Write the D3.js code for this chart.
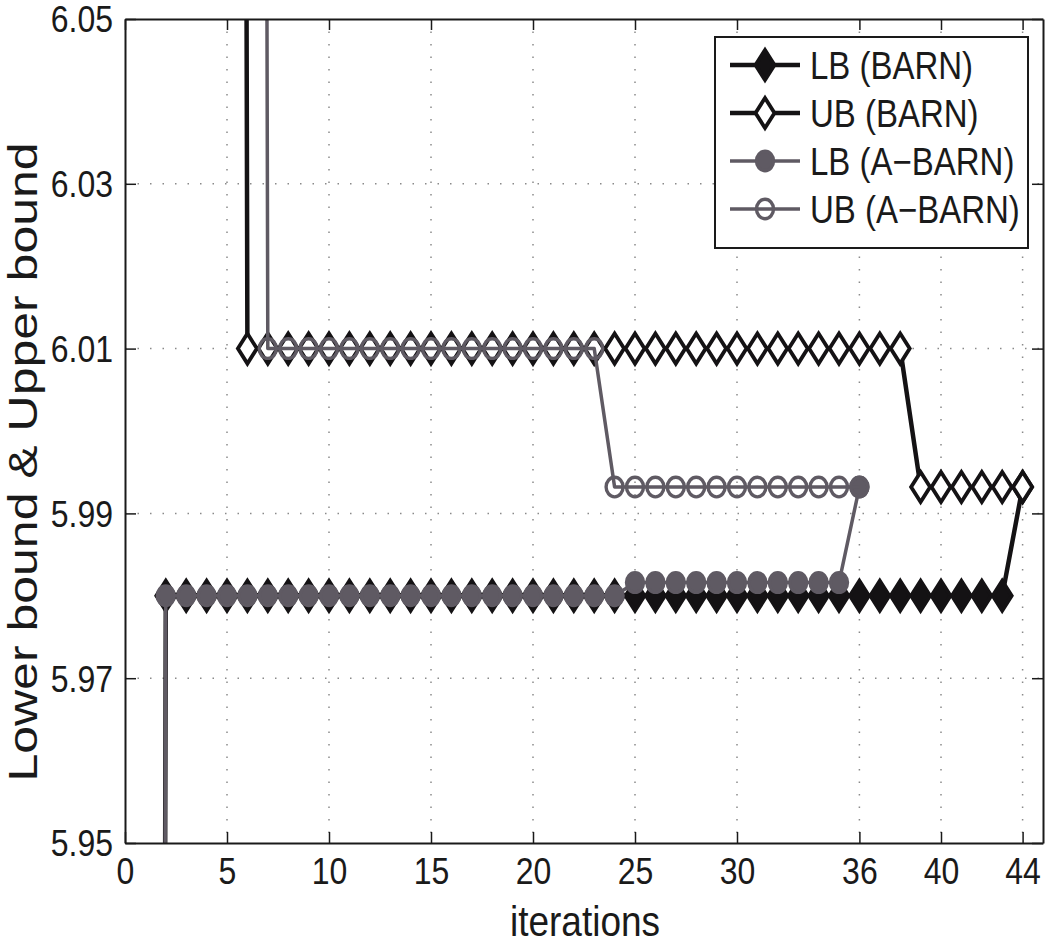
<!DOCTYPE html>
<html>
<head>
<meta charset="utf-8">
<script src="https://cdn.jsdelivr.net/npm/d3@7"></script>
<style>
  body { margin: 0; background: #fff; }
  svg { display: block; font-family: "Liberation Sans", Arial, sans-serif; }
  .st { transform-box: fill-box; transform-origin: center; transform: scaleY(1.16); }
</style>
</head>
<body>
<svg id="chart" width="1050" height="947"></svg>
<script>
// iteration numbers (x) shared by all series
const iterations = [1, 2, 3, 4, 5, 6, 7, 8, 9, 10, 11, 12, 13, 14, 15, 16, 17, 18, 19, 20, 21, 22,
  23, 24, 25, 26, 27, 28, 29, 30, 31, 32, 33, 34, 35, 36, 37, 38, 39, 40, 41, 42, 43, 44];

// null = no value at that iteration; values outside 5.95..6.05 are off the chart
const lbBarn = [5.0, 5.98, 5.98, 5.98, 5.98, 5.98, 5.98, 5.98, 5.98, 5.98, 5.98, 5.98, 5.98, 5.98,
  5.98, 5.98, 5.98, 5.98, 5.98, 5.98, 5.98, 5.98, 5.98, 5.98, 5.98, 5.98, 5.98, 5.98, 5.98, 5.98,
  5.98, 5.98, 5.98, 5.98, 5.98, 5.98, 5.98, 5.98, 5.98, 5.98, 5.98, 5.98, 5.98, 5.9932];
const ubBarn = [null, null, null, null, 7.0, 6.01, 6.01, 6.01, 6.01, 6.01, 6.01, 6.01, 6.01, 6.01,
  6.01, 6.01, 6.01, 6.01, 6.01, 6.01, 6.01, 6.01, 6.01, 6.01, 6.01, 6.01, 6.01, 6.01, 6.01, 6.01,
  6.01, 6.01, 6.01, 6.01, 6.01, 6.01, 6.01, 6.01, 5.9932, 5.9932, 5.9932, 5.9932, 5.9932, 5.9932];
const lbABarn = [5.0, 5.98, 5.98, 5.98, 5.98, 5.98, 5.98, 5.98, 5.98, 5.98, 5.98, 5.98, 5.98, 5.98,
  5.98, 5.98, 5.98, 5.98, 5.98, 5.98, 5.98, 5.98, 5.98, 5.98, 5.9816, 5.9816, 5.9816, 5.9816, 5.9816,
  5.9816, 5.9816, 5.9816, 5.9816, 5.9816, 5.9816, 5.9932, null, null, null, null, null, null, null, null];
const ubABarn = [null, null, null, null, null, 7.0, 6.01, 6.01, 6.01, 6.01, 6.01, 6.01, 6.01, 6.01,
  6.01, 6.01, 6.01, 6.01, 6.01, 6.01, 6.01, 6.01, 6.01, 5.9932, 5.9932, 5.9932, 5.9932, 5.9932, 5.9932,
  5.9932, 5.9932, 5.9932, 5.9932, 5.9932, 5.9932, 5.9932, null, null, null, null, null, null, null, null];

const seriesNames = ['LB (BARN)', 'UB (BARN)', 'LB (A\u2212BARN)', 'UB (A\u2212BARN)'];
const xTicks = [0, 5, 10, 15, 20, 25, 30, 36, 40, 44];
const yTicks = [5.95, 5.97, 5.99, 6.01, 6.03, 6.05];

const svg = d3.select('#chart');
const M = { left: 125, right: 1043, top: 19, bottom: 843 };

const x = d3.scaleLinear().domain([0, 45]).range([M.left, M.right]);
const y = d3.scaleLinear().domain([5.95, 6.05]).range([M.bottom, M.top]);

const BARN = '#141214';
const ABARN = '#5f5a63';

const series = [
  { name: seriesNames[0], values: lbBarn, color: BARN, lw: 4.5, marker: 'diamond', fill: BARN },
  { name: seriesNames[1], values: ubBarn, color: BARN, lw: 4.5, marker: 'diamond', fill: '#fff' },
  { name: seriesNames[2], values: lbABarn, color: ABARN, lw: 3.5, marker: 'circle', fill: ABARN },
  { name: seriesNames[3], values: ubABarn, color: ABARN, lw: 3.5, marker: 'circle', fill: 'none' }
];

svg.append('rect').attr('width', 1050).attr('height', 947).attr('fill', '#fff');

svg.append('clipPath').attr('id', 'plot-clip')
  .append('rect')
  .attr('x', M.left).attr('y', M.top)
  .attr('width', M.right - M.left).attr('height', M.bottom - M.top);

// dotted grid
const grid = svg.append('g').attr('stroke', '#8a8a8a').attr('stroke-width', 1.5)
  .attr('stroke-dasharray', '1.5,11');
grid.selectAll('line.gx').data(xTicks.filter(d => d > 0))
  .enter().append('line')
  .attr('x1', d => x(d)).attr('x2', d => x(d))
  .attr('y1', M.top).attr('y2', M.bottom);
grid.selectAll('line.gy').data(yTicks.filter(d => d > 5.95 && d < 6.05))
  .enter().append('line')
  .attr('x1', M.left).attr('x2', M.right)
  .attr('y1', d => y(d)).attr('y2', d => y(d));

// series
const plot = svg.append('g').attr('clip-path', 'url(#plot-clip)');
const line = d3.line()
  .defined(d => d.v !== null)
  .x(d => x(d.i))
  .y(d => y(d.v));

function drawMarker(sel, s) {
  if (s.marker === 'diamond') {
    sel.append('path')
      .attr('d', 'M0,-15 L9.5,0 L0,15 L-9.5,0 Z')
      .attr('fill', s.fill)
      .attr('stroke', s.color)
      .attr('stroke-width', 3.8)
      .attr('stroke-linejoin', 'miter');
  } else {
    sel.append('ellipse')
      .attr('rx', 8.5).attr('ry', 9.8)
      .attr('fill', s.fill === 'none' ? 'none' : s.fill)
      .attr('stroke', s.color)
      .attr('stroke-width', 3.4);
  }
}

series.forEach(s => {
  const pts = iterations.map((it, k) => ({ i: it, v: s.values[k] }));
  plot.append('path')
    .datum(pts)
    .attr('d', line)
    .attr('fill', 'none')
    .attr('stroke', s.color)
    .attr('stroke-width', s.lw)
    .attr('stroke-linejoin', 'round');
  plot.selectAll(null)
    .data(pts.filter(d => d.v !== null && d.v >= 5.95 && d.v <= 6.05))
    .enter().append('g')
    .attr('transform', d => `translate(${x(d.i)},${y(d.v)})`)
    .each(function () { drawMarker(d3.select(this), s); });
});

// axes (box with inward ticks on all sides)
const fmtY = d3.format('.2f');
const axB = svg.append('g').attr('transform', `translate(0,${M.bottom})`)
  .call(d3.axisBottom(x).tickValues(xTicks).tickSize(-11).tickSizeOuter(0).tickPadding(20));
const axT = svg.append('g').attr('transform', `translate(0,${M.top})`)
  .call(d3.axisTop(x).tickValues(xTicks).tickSize(-11).tickSizeOuter(0).tickFormat(''));
const axL = svg.append('g').attr('transform', `translate(${M.left},0)`)
  .call(d3.axisLeft(y).tickValues(yTicks).tickSize(-11).tickSizeOuter(0).tickPadding(12).tickFormat(fmtY));
const axR = svg.append('g').attr('transform', `translate(${M.right},0)`)
  .call(d3.axisRight(y).tickValues(yTicks).tickSize(-11).tickSizeOuter(0).tickFormat(''));

[axB, axT, axL, axR].forEach(a => {
  a.select('.domain').attr('stroke', '#1a1a1a').attr('stroke-width', 2);
  a.selectAll('.tick line').attr('stroke', '#1a1a1a').attr('stroke-width', 1.5);
  a.selectAll('.tick text')
    .attr('class', 'st')
    .attr('fill', '#1a1a1a')
    .style('font-size', '32px');
});
axB.selectAll('.tick text').attr('dy', '0.6em');
axL.selectAll('.tick text').attr('dy', '0.35em');

// axis labels
svg.append('text')
  .attr('class', 'st')
  .attr('x', 585).attr('y', 934)
  .attr('text-anchor', 'middle')
  .attr('fill', '#1a1a1a')
  .style('font-size', '37px')
  .text('iterations');

svg.append('g')
  .attr('transform', 'translate(37,462)')
  .append('text')
  .attr('transform', 'rotate(-90) scale(1.25,1)')
  .attr('text-anchor', 'middle')
  .attr('fill', '#1a1a1a')
  .style('font-size', '40px')
  .text('Lower bound & Upper bound');

// legend
const lg = svg.append('g');
lg.append('rect')
  .attr('x', 715).attr('y', 37)
  .attr('width', 313).attr('height', 211)
  .attr('fill', '#fff')
  .attr('stroke', '#1a1a1a')
  .attr('stroke-width', 2);

const legendY = d3.scalePoint().domain(seriesNames).range([65, 209]);
const items = lg.selectAll('g.item').data(series).enter().append('g')
  .attr('transform', d => `translate(0,${legendY(d.name)})`);
items.append('line')
  .attr('x1', 730).attr('x2', 800)
  .attr('stroke', d => d.color)
  .attr('stroke-width', d => d.lw);
items.append('g')
  .attr('transform', 'translate(765,0)')
  .each(function (d) { drawMarker(d3.select(this), d); });
items.append('text')
  .attr('class', 'st')
  .attr('x', 810).attr('dy', '0.36em')
  .attr('fill', '#1a1a1a')
  .style('font-size', '33px')
  .text(d => d.name);
</script>
</body>
</html>
